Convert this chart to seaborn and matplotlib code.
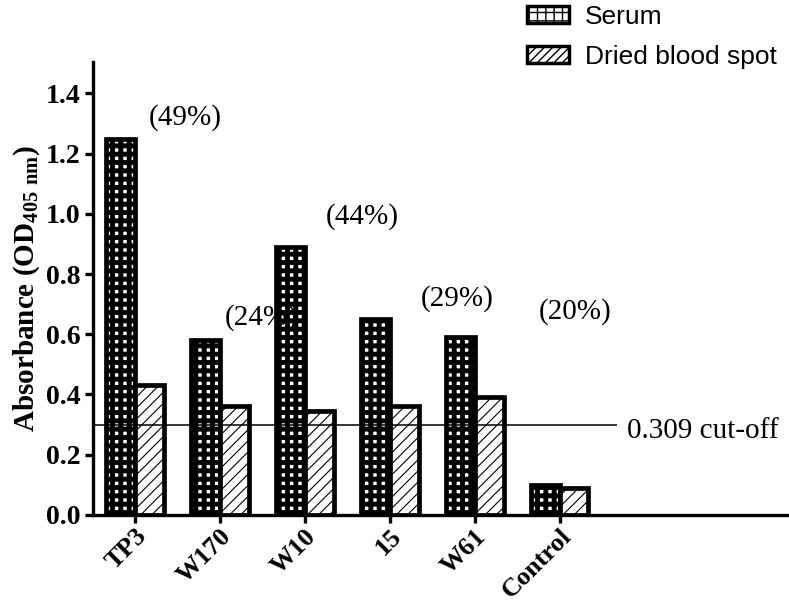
import pandas as pd
import seaborn as sns
import matplotlib.pyplot as plt
from matplotlib.patches import Patch

# values
samples = ['TP3', 'W170', 'W10', '15', 'W61', 'Control']
serum = [1.25, 0.58, 0.89, 0.65, 0.59, 0.10]
dried_spot = [0.43, 0.36, 0.345, 0.36, 0.39, 0.09]
pct_labels = ['(49%)', '(24%)', '(44%)', '(29%)', '(20%)']
pct_x = [0.59, 1.49, 2.68, 3.80, 5.18]
pct_y = [1.32, 0.655, 0.99, 0.72, 0.675]
cutoff = 0.30
cutoff_text = '0.309 cut-off'

df = pd.DataFrame({'Sample': samples * 2,
                   'OD': serum + dried_spot,
                   'Type': ['Serum'] * len(samples) + ['Dried blood spot'] * len(samples)})

sns.set_style('ticks')
plt.rcParams['font.family'] = ['Liberation Serif', 'DejaVu Serif']
plt.rcParams['text.color'] = 'black'
plt.rcParams['axes.labelcolor'] = 'black'
plt.rcParams['xtick.color'] = 'black'
plt.rcParams['ytick.color'] = 'black'
plt.rcParams['axes.edgecolor'] = 'black'
plt.rcParams['mathtext.fontset'] = 'custom'
plt.rcParams['mathtext.rm'] = 'Liberation Serif:bold'
plt.rcParams['mathtext.bf'] = 'Liberation Serif:bold'

fig = plt.figure(figsize=(7.89, 6.05), dpi=100)
ax = fig.add_axes([0.118, 0.149, 0.882, 0.7488])

sns.barplot(data=df, x='Sample', y='OD', hue='Type', order=samples,
            hue_order=['Serum', 'Dried blood spot'],
            palette=['white', 'white'], edgecolor='black', linewidth=3.4,
            width=0.68, legend=False, ax=ax)

hatches = ['++', '///']
hatch_lw = [3.5, 0.8]
for cont, h, lw in zip(ax.containers, hatches, hatch_lw):
    for bar in cont:
        bar.set_hatch(h)
        if hasattr(bar, 'set_hatch_linewidth'):
            bar.set_hatch_linewidth(lw)
        else:
            plt.rcParams['hatch.linewidth'] = lw

ax.set_xlim(-0.49, 7.7)
ax.set_ylim(0, 1.505)
ax.set_yticks([0, 0.2, 0.4, 0.6, 0.8, 1.0, 1.2, 1.4])
ax.set_yticklabels([f'{v:.1f}' for v in ax.get_yticks()], fontsize=20, fontweight='bold')
ax.set_xticks(range(len(samples)))
ax.set_xticklabels(samples, fontsize=19, fontweight='bold', rotation=45,
                   ha='right', rotation_mode='anchor')
ax.set_xlabel('')
ax.set_ylabel(r'Absorbance (OD$_{405\ \mathrm{nm}}$)', fontsize=21, fontweight='bold',
              labelpad=3)

for s in ['top', 'right']:
    ax.spines[s].set_visible(False)
for s in ['left', 'bottom']:
    ax.spines[s].set_linewidth(2.4)
ax.tick_params(width=2.4, length=6, direction='out', pad=3)
ax.tick_params(axis='x', pad=1)

ax.hlines(cutoff, -0.49, 5.67, color='black', linewidth=1.1)
ax.text(5.79, cutoff - 0.02, cutoff_text, fontsize=21, va='center', ha='left')

for t, x, y in zip(pct_labels, pct_x, pct_y):
    ax.text(x, y, t, fontsize=21, ha='center', va='center')

handles = [Patch(facecolor='white', edgecolor='black', hatch='++', linewidth=2.5),
           Patch(facecolor='white', edgecolor='black', hatch='////', linewidth=2.5)]
fig.legend(handles, ['Serum', 'Dried blood spot'], loc='upper left',
           bbox_to_anchor=(0.668, 0.992), frameon=False, borderpad=0,
           borderaxespad=0, handlelength=1.6, handleheight=0.65,
           handletextpad=0.6, labelspacing=0.6,
           prop={'family': 'Liberation Sans', 'size': 19})

fig.savefig('out.png', dpi=100)
